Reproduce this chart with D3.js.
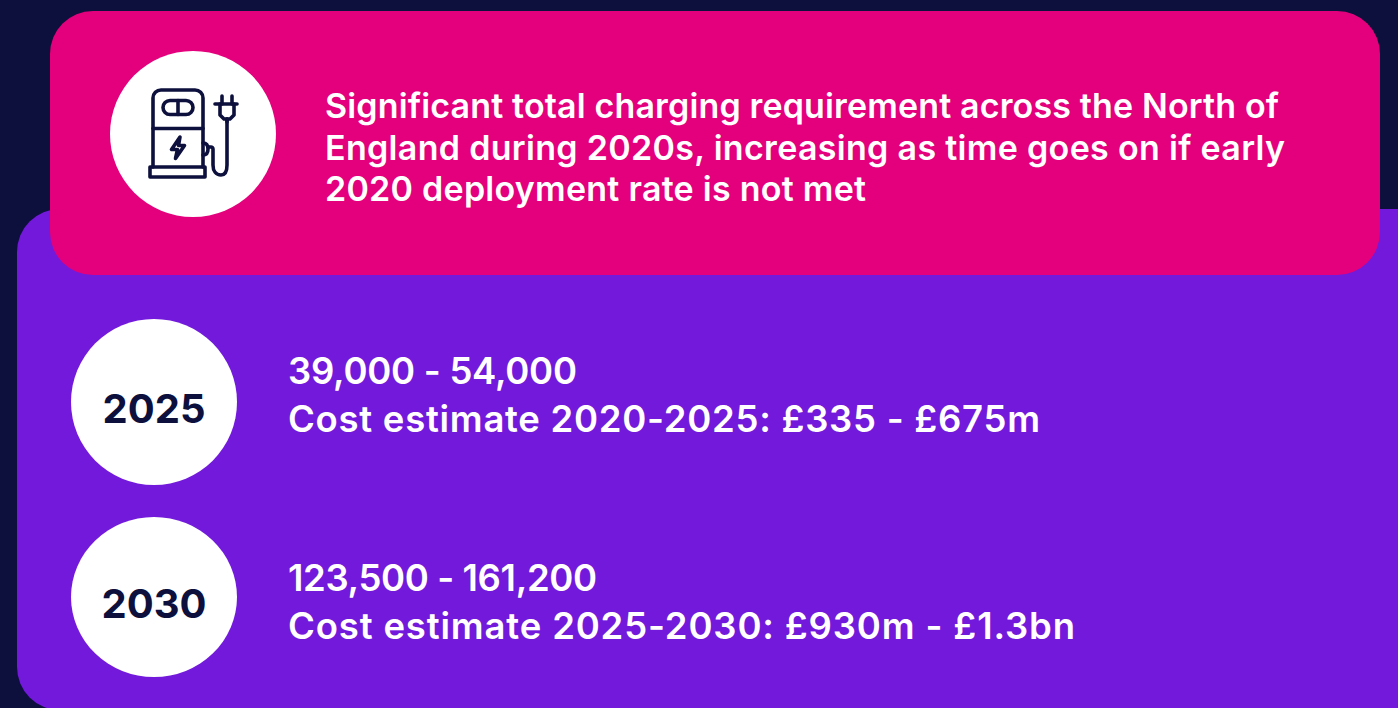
<!DOCTYPE html>
<html>
<head>
    <meta charset="utf-8">
    <style>
        html, body { margin: 0; padding: 0; background: #0d103c; overflow: hidden; }
        svg { display: block; }
        text { font-family: Inter, sans-serif; font-weight: 600; font-variant-ligatures: none; }
    </style>
    <script src="https://d3js.org/d3.v7.min.js"></script>
</head>
<body>
    <script>
        const headline = [
            'Significant total charging requirement across the North of',
            'England during 2020s, increasing as time goes on if early',
            '2020 deployment rate is not met'
        ];
        const years = ['2025', '2030'];
        const counts = ['39,000 - 54,000', '123,500 - 161,200'];
        const costs = ['Cost estimate 2020-2025: £335 - £675m', 'Cost estimate 2025-2030: £930m - £1.3bn'];

        // text layout
        const headlineY = [118, 160, 201], headlineW = [954, 960, 541];
        const countY = [384, 591], countW = [289, 309];
        const costY = [432, 639], costW = [752, 787];

        const navy = '#0d103c', pink = '#e4007c', purple = '#7219dc';

        const svg = d3.select('body').append('svg')
            .attr('width', 1398)
            .attr('height', 708);

        svg.append('rect').attr('x', 17).attr('y', 209).attr('width', 1430).attr('height', 501).attr('rx', 43).attr('fill', purple);
        svg.append('rect').attr('x', 50).attr('y', 11).attr('width', 1330).attr('height', 264).attr('rx', 43).attr('fill', pink);

        // icon
        svg.append('circle').attr('cx', 193).attr('cy', 134).attr('r', 83).attr('fill', '#fff');
        const icon = svg.append('g')
            .attr('fill', 'none')
            .attr('stroke', navy)
            .attr('stroke-width', 3.6)
            .attr('stroke-linejoin', 'round')
            .attr('stroke-linecap', 'round');
        const iconPaths = [
            'M153 167V98a8 8 0 0 1 8-8h34a8 8 0 0 1 8 8v69',
            'M153 128.500H203',
            'M170 100.500h16a7 7 0 0 1 0 14h-16a7 7 0 0 1 0-14z',
            'M178 100.500v14',
            'M150 167h55v10h-55z',
            'M180 137l-8.500 12.500h6l-2 9 9-13h-6z',
            'M203 143c4 0 5 3 5 6s-1 6-5 6',
            'M208 147h3c1 0 2 1 2 2v16c0 6 3 10 8 10s6-5 6-10v-46',
            'M215 104h22',
            'M220 104v11l4 4h6l4-4v-11',
            'M222 96v8M232 96v8',
            'M227 119v3'
        ];
        icon.selectAll('path').data(iconPaths).join('path').attr('d', d => d);

        svg.append('g').selectAll('text').data(headline).join('text')
            .attr('x', 325)
            .attr('y', (d, i) => headlineY[i])
            .attr('textLength', (d, i) => headlineW[i])
            .attr('font-size', 34)
            .attr('fill', '#fff')
            .text(d => d);

        const rowY = d3.scaleOrdinal().domain(years).range([402, 597]);
        const rowRy = d3.scaleOrdinal().domain(years).range([83, 80]);

        const row = svg.selectAll('g.row').data(years).join('g').attr('class', 'row');
        row.append('ellipse')
            .attr('cx', 154)
            .attr('cy', d => rowY(d))
            .attr('rx', 83)
            .attr('ry', d => rowRy(d))
            .attr('fill', '#fff');
        row.append('text')
            .attr('x', 154)
            .attr('y', d => rowY(d) + 21)
            .attr('text-anchor', 'middle')
            .attr('font-size', 40)
            .style('font-weight', 700)
            .attr('fill', navy)
            .text(d => d);
        row.append('text')
            .attr('x', 288)
            .attr('y', (d, i) => countY[i])
            .attr('textLength', (d, i) => countW[i])
            .attr('font-size', 36.500)
            .attr('fill', '#fff')
            .text((d, i) => counts[i]);
        row.append('text')
            .attr('x', 288)
            .attr('y', (d, i) => costY[i])
            .attr('textLength', (d, i) => costW[i])
            .attr('font-size', 36.500)
            .attr('fill', '#fff')
            .text((d, i) => costs[i]);
    </script>
</body>
</html>
